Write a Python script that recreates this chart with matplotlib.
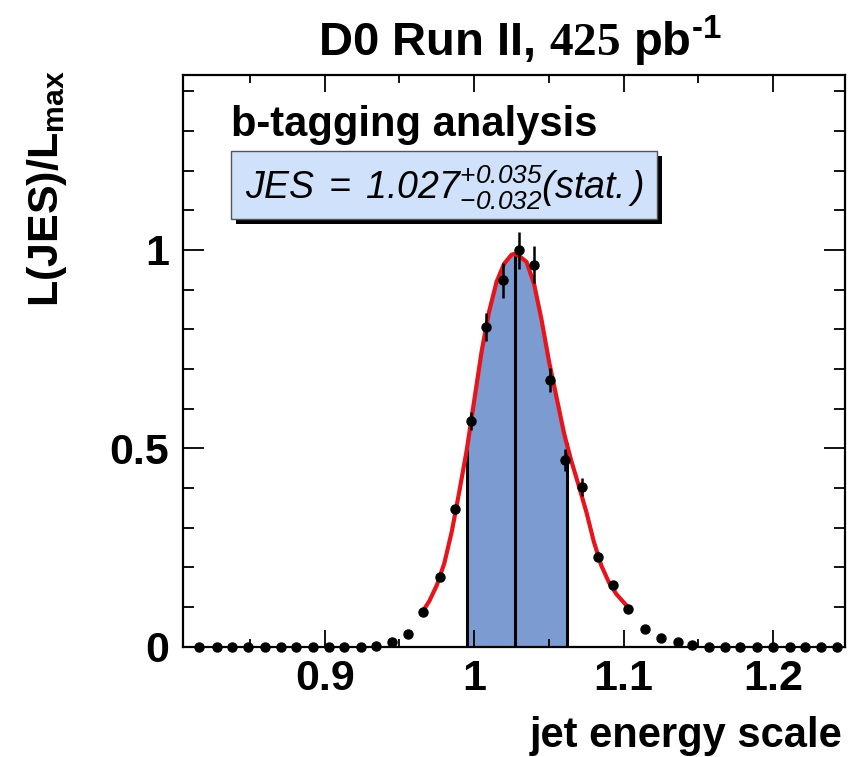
import numpy as np
import matplotlib
matplotlib.use('Agg')
import matplotlib.pyplot as plt
from matplotlib import font_manager
from matplotlib.patches import Rectangle
from matplotlib.ticker import MultipleLocator, FuncFormatter

# likelihood scan points (jet energy scale, L/Lmax, error)
jes_x = [0.816, 0.828, 0.838, 0.849, 0.860, 0.871, 0.881, 0.892, 0.903, 0.913,
         0.924, 0.934, 0.945, 0.956, 0.966, 0.977, 0.987, 0.998, 1.008, 1.019,
         1.030, 1.040, 1.051, 1.061, 1.072, 1.083, 1.093, 1.103, 1.114, 1.125,
         1.136, 1.146, 1.157, 1.168, 1.178, 1.189, 1.200, 1.211, 1.221, 1.232,
         1.243]
jes_l = [0, 0, 0, 0, 0, 0, 0, 0, 0, 0,
         0, 0.003, 0.011, 0.032, 0.087, 0.175, 0.346, 0.568, 0.806, 0.924,
         0.999, 0.963, 0.672, 0.471, 0.403, 0.227, 0.156, 0.095, 0.045, 0.022,
         0.011, 0.004, 0, 0, 0, 0, 0, 0, 0, 0,
         0]
jes_err = [0, 0, 0, 0, 0, 0, 0, 0, 0, 0,
           0, 0, 0, 0.004, 0.008, 0.010, 0.012, 0.023, 0.036, 0.044,
           0.047, 0.047, 0.030, 0.027, 0.023, 0.012, 0.010, 0.006, 0, 0,
           0, 0, 0, 0, 0, 0, 0, 0, 0, 0,
           0]

# fitted curve
fit_x = [0.9654, 0.970, 0.975, 0.980, 0.985, 0.990, 0.995, 1.000, 1.005, 1.010,
         1.015, 1.020, 1.025, 1.027, 1.030, 1.035, 1.040, 1.045, 1.050, 1.055,
         1.060, 1.062, 1.065, 1.070, 1.075, 1.080, 1.085, 1.090, 1.095, 1.1035]
fit_y = [0.088, 0.115, 0.155, 0.210, 0.290, 0.390, 0.495, 0.620, 0.745, 0.845,
         0.920, 0.965, 0.988, 0.990, 0.985, 0.970, 0.915, 0.825, 0.720, 0.630,
         0.540, 0.510, 0.468, 0.405, 0.340, 0.265, 0.205, 0.163, 0.133, 0.097]

jes_best = 1.027
jes_up = 0.035
jes_down = 0.032

xticks = [0.9, 1.0, 1.1, 1.2]
yticks = [0, 0.5, 1]

available = {f.name for f in font_manager.fontManager.ttflist}
narrow = 'Liberation Sans Narrow' if 'Liberation Sans Narrow' in available else 'Liberation Sans'

plt.rcParams['font.family'] = 'Liberation Sans'
plt.rcParams['mathtext.fontset'] = 'custom'
plt.rcParams['mathtext.rm'] = 'Liberation Sans:italic'
plt.rcParams['mathtext.it'] = 'Liberation Sans:italic'
plt.rcParams['mathtext.tt'] = 'Liberation Sans:bold'
plt.rcParams['mathtext.bf'] = 'Liberation Serif:bold'
plt.rcParams['mathtext.sf'] = narrow + ':bold'

fig = plt.figure(figsize=(8.54, 7.57), dpi=100)
ax = fig.add_axes([0.2139, 0.1457, 0.7755, 0.7548])

fx = np.array(fit_x)
fy = np.array(fit_y)
lo, hi = jes_best - jes_down, jes_best + jes_up
band = (fx >= lo - 1e-9) & (fx <= hi + 1e-9)
ax.fill_between(fx[band], 0, fy[band], color='#7b9bd1', lw=0, zorder=1)
for xv in (lo, jes_best, hi):
    ax.plot([xv, xv], [0, np.interp(xv, fx, fy)], color='black', lw=2.2, zorder=2)

ax.plot(fx, fy, color='#e8141b', lw=3, zorder=3)

ax.errorbar(jes_x, jes_l, yerr=jes_err, fmt='o', color='black', ms=6.5,
            elinewidth=1.8, capsize=0, clip_on=False, zorder=5)

ax.set_xlim(0.805, 1.248)
ax.set_ylim(0, 1.44)
ax.set_xticks(xticks)
ax.set_yticks(yticks)
ax.xaxis.set_minor_locator(MultipleLocator(0.05))
ax.yaxis.set_minor_locator(MultipleLocator(0.1))
fmt = FuncFormatter(lambda v, p: f"{v:g}")
ax.xaxis.set_major_formatter(fmt)
ax.yaxis.set_major_formatter(fmt)

ax.tick_params(which='both', direction='in', top=True, right=True, width=1.3)
ax.tick_params(axis='x', which='major', length=12, pad=9)
ax.tick_params(axis='x', which='minor', length=6)
ax.tick_params(axis='y', which='major', length=15, pad=10)
ax.tick_params(axis='y', which='minor', length=8)
for lab in ax.get_xticklabels() + ax.get_yticklabels():
    lab.set_fontsize(31)
    lab.set_fontweight('bold')
for sp in ax.spines.values():
    sp.set_linewidth(1.6)

# label box with shadow
bx0, bx1, by0, by1 = 0.073, 0.716, 0.7485, 0.8675
ax.add_patch(Rectangle((bx0 + 0.008, by0 - 0.009), bx1 - bx0, by1 - by0,
                       transform=ax.transAxes, facecolor='black', edgecolor='none', zorder=6))
ax.add_patch(Rectangle((bx0, by0), bx1 - bx0, by1 - by0, transform=ax.transAxes,
                       facecolor='#cfe1fb', edgecolor='#555555', lw=1, zorder=7))
ax.text((bx0 + bx1) / 2, 0.7825,
        r"$JES\;=\;1.027^{+0.035}_{-0.032}(stat.)$",
        transform=ax.transAxes, ha='center', va='baseline', fontsize=27, zorder=8)
ax.text(0.073, 0.894, 'b-tagging analysis', transform=ax.transAxes,
        fontsize=30, fontweight='bold', va='baseline', zorder=8)

fig.text(0.609, 0.925, "D0 Run II, $\\mathbf{425}$ pb$^{\\mathsf{\u2010 1}}$",
         family=[narrow, 'Liberation Sans'], fontweight='bold', fontsize=34,
         ha='center', va='baseline')
fig.text(0.055, 0.9075, r"L(JES)/L$_{\mathtt{max}}$", rotation=90, ha='center', va='top',
         fontsize=31, fontweight='bold')
fig.text(0.986, 0.0132, 'jet energy scale', ha='right', va='baseline',
         fontsize=30, fontweight='bold')

fig.savefig('out.png', dpi=100)
